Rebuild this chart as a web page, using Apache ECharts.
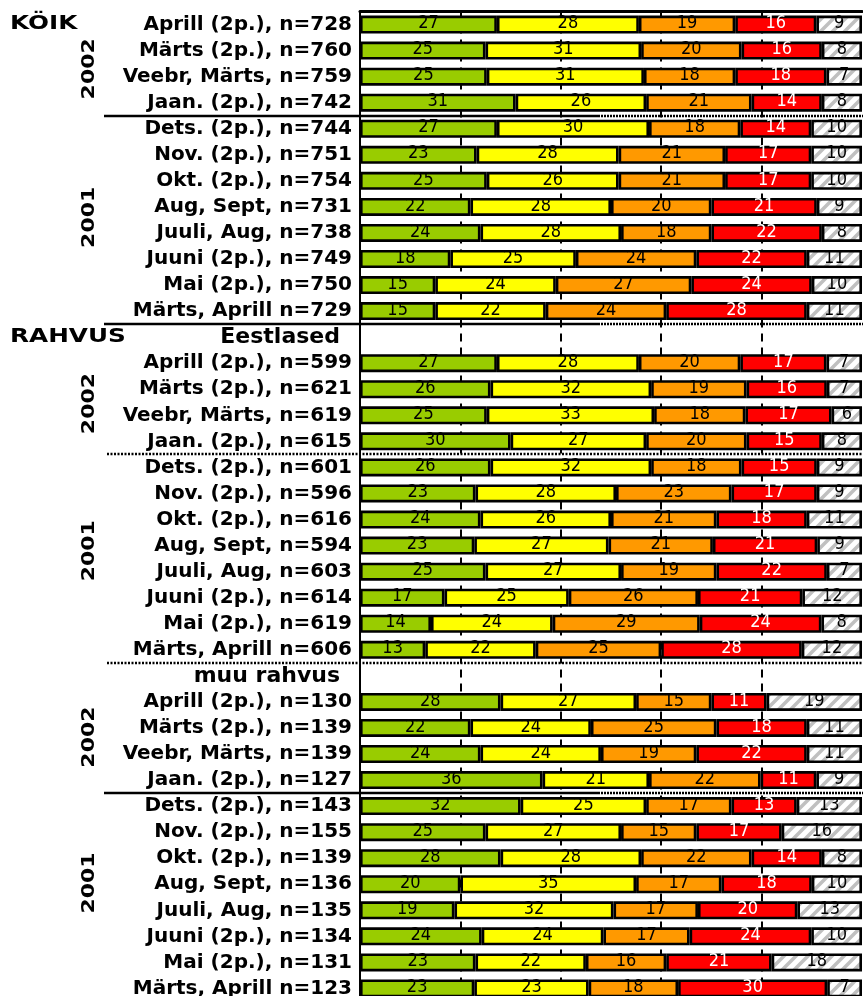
<!DOCTYPE html>
<html><head><meta charset="utf-8">
<script src="https://cdn.jsdelivr.net/npm/echarts@6/dist/echarts.min.js"></script>
<style>html,body{margin:0;padding:0;background:#fff}#c{width:863px;height:996px}</style>
</head><body><div id="c"></div>
<script>
const categories = [
 'Aprill (2p.), n=728','Märts (2p.), n=760','Veebr, Märts, n=759','Jaan. (2p.), n=742',
 'Dets. (2p.), n=744','Nov. (2p.), n=751','Okt. (2p.), n=754','Aug, Sept, n=731','Juuli, Aug, n=738','Juuni (2p.), n=749','Mai (2p.), n=750','Märts, Aprill n=729',
 'Eestlased',
 'Aprill (2p.), n=599','Märts (2p.), n=621','Veebr, Märts, n=619','Jaan. (2p.), n=615',
 'Dets. (2p.), n=601','Nov. (2p.), n=596','Okt. (2p.), n=616','Aug, Sept, n=594','Juuli, Aug, n=603','Juuni (2p.), n=614','Mai (2p.), n=619','Märts, Aprill n=606',
 'muu rahvus',
 'Aprill (2p.), n=130','Märts (2p.), n=139','Veebr, Märts, n=139','Jaan. (2p.), n=127',
 'Dets. (2p.), n=143','Nov. (2p.), n=155','Okt. (2p.), n=139','Aug, Sept, n=136','Juuli, Aug, n=135','Juuni (2p.), n=134','Mai (2p.), n=131','Märts, Aprill n=123'
];
const headerRows = ['Eestlased', 'muu rahvus'];
const green  = [27,25,25,31,27,23,25,22,24,18,15,15,null,27,26,25,30,26,23,24,23,25,17,14,13,null,28,22,24,36,32,25,28,20,19,24,23,23];
const yellow = [28,31,31,26,30,28,26,28,28,25,24,22,null,28,32,33,27,32,28,26,27,27,25,24,22,null,27,24,24,21,25,27,28,35,32,24,22,23];
const orange = [19,20,18,21,18,21,21,20,18,24,27,24,null,20,19,18,20,18,23,21,21,19,26,29,25,null,15,25,19,22,17,15,22,17,17,17,16,18];
const red    = [16,16,18,14,14,17,17,21,22,22,24,28,null,17,16,17,15,15,17,18,21,22,21,24,28,null,11,18,22,11,13,17,14,18,20,24,21,30];
const gray   = [9,8,7,8,10,10,10,9,8,11,10,11,null,7,7,6,8,9,9,11,9,7,12,8,12,null,19,11,11,9,13,16,8,10,13,10,18,7];

const sectionTitles = [{text:'KÖIK', row:0}, {text:'RAHVUS', row:12}];
const yearLabels = [{text:'2002', at:1.7},{text:'2001', at:7.4},{text:'2002', at:14.55},{text:'2001', at:20.2},{text:'2002', at:27.35},{text:'2001', at:32.95}];
const separators = [{after:3, kind:'mixed'},{after:11, kind:'mixed'},{after:16, kind:'dotted'},{after:24, kind:'dotted'},{after:29, kind:'mixed'}];

// hatch pattern
const pc = document.createElement('canvas'); pc.width = 12; pc.height = 12;
const g = pc.getContext('2d');
g.fillStyle = '#fff'; g.fillRect(0,0,12,12);
g.strokeStyle = '#c0c0c0'; g.lineWidth = 3.5;
[[-4,4,4,-4],[-2,14,14,-2],[8,16,16,8]].forEach(l => { g.beginPath(); g.moveTo(l[0],l[1]); g.lineTo(l[2],l[3]); g.stroke(); });

const segs = [green, yellow, orange, red, gray];
const segNames = ['1','2','3','4','5'];
const colors = ['#99cc00','#ffff00','#ff9900','#ff0000',{image: pc, repeat:'repeat'}];
const totals = categories.map((_, i) => green[i] == null ? null : segs.reduce((s, a) => s + a[i], 0));

const chart = echarts.init(document.getElementById('c'));
chart.setOption({
  animation: false,
  grid: {left: 360, right: 1, top: 11.5, height: 990, outerBoundsMode: 'none', containLabel: false},
  xAxis: {type:'value', min:0, max:100, interval:20, position:'top',
    axisLine:{show:true, lineStyle:{color:'#000', width:3}}, axisTick:{show:false}, axisLabel:{show:false},
    splitLine:{show:true, showMinLine:false, showMaxLine:false, lineStyle:{color:'#000', width:2, type:[8,6]}}},
  yAxis: {type:'category', inverse:true, data: categories,
    axisLine:{show:true, onZero:false, lineStyle:{color:'#000', width:2}}, axisTick:{show:false},
    axisLabel:{interval:0, margin:8, color:'#000', fontFamily:'DejaVu Sans', fontWeight:'bold', fontSize:20,
      formatter: v => headerRows.includes(v) ? '{h|' + v + '}' : v,
      rich:{h:{fontFamily:'DejaVu Sans', fontWeight:'bold', fontSize:22, color:'#000', padding:[0,12,0,0]}}}},
  series: segs.map((arr, k) => ({
    type:'bar', name: segNames[k], stack:'all', barWidth:18,
    data: arr.map((v, i) => v == null ? null : v / totals[i] * 100),
    itemStyle:{color: colors[k], borderColor:'#000', borderWidth:2.6},
    label:{show:true, position:'inside', offset:[0,-1], color: k === 3 ? '#fff' : '#000',
      fontFamily:"'Liberation Sans Narrow','DejaVu Sans Condensed',sans-serif", fontSize:18,
      formatter: p => arr[p.dataIndex]},
    emphasis:{disabled:true}
  }))
});

const py = i => chart.convertToPixel({yAxisIndex:0}, i);
const rowH = py(1) - py(0);
const rowY = f => py(0) + f * rowH;
const gr = [];
sectionTitles.forEach(t => gr.push({type:'text', x:10, y:rowY(t.row), scaleX:1.3,
  style:{text:t.text, font:'bold 19px "DejaVu Sans"', fill:'#000', verticalAlign:'middle', align:'left'}}));
yearLabels.forEach(t => gr.push({type:'text', x:89, y:rowY(t.at), rotation:Math.PI/2, scaleX:1.22,
  style:{text:t.text, font:'bold 18px "DejaVu Sans"', fill:'#000', verticalAlign:'middle', align:'center'}}));
separators.forEach(s => {
  const y = Math.round((py(s.after) + py(s.after + 1)) / 2);
  if (s.kind === 'mixed') {
    gr.push({type:'line', shape:{x1:104, y1:y, x2:598, y2:y}, style:{stroke:'#000', lineWidth:2.5}, z:10});
    gr.push({type:'line', shape:{x1:598, y1:y, x2:863, y2:y}, style:{stroke:'#000', lineWidth:2.5, lineDash:[2,1]}, z:10});
  } else {
    gr.push({type:'line', shape:{x1:107, y1:y, x2:863, y2:y}, style:{stroke:'#000', lineWidth:2.5, lineDash:[2,1.5]}, z:10});
  }
});
chart.setOption({graphic: gr});
</script></body></html>
